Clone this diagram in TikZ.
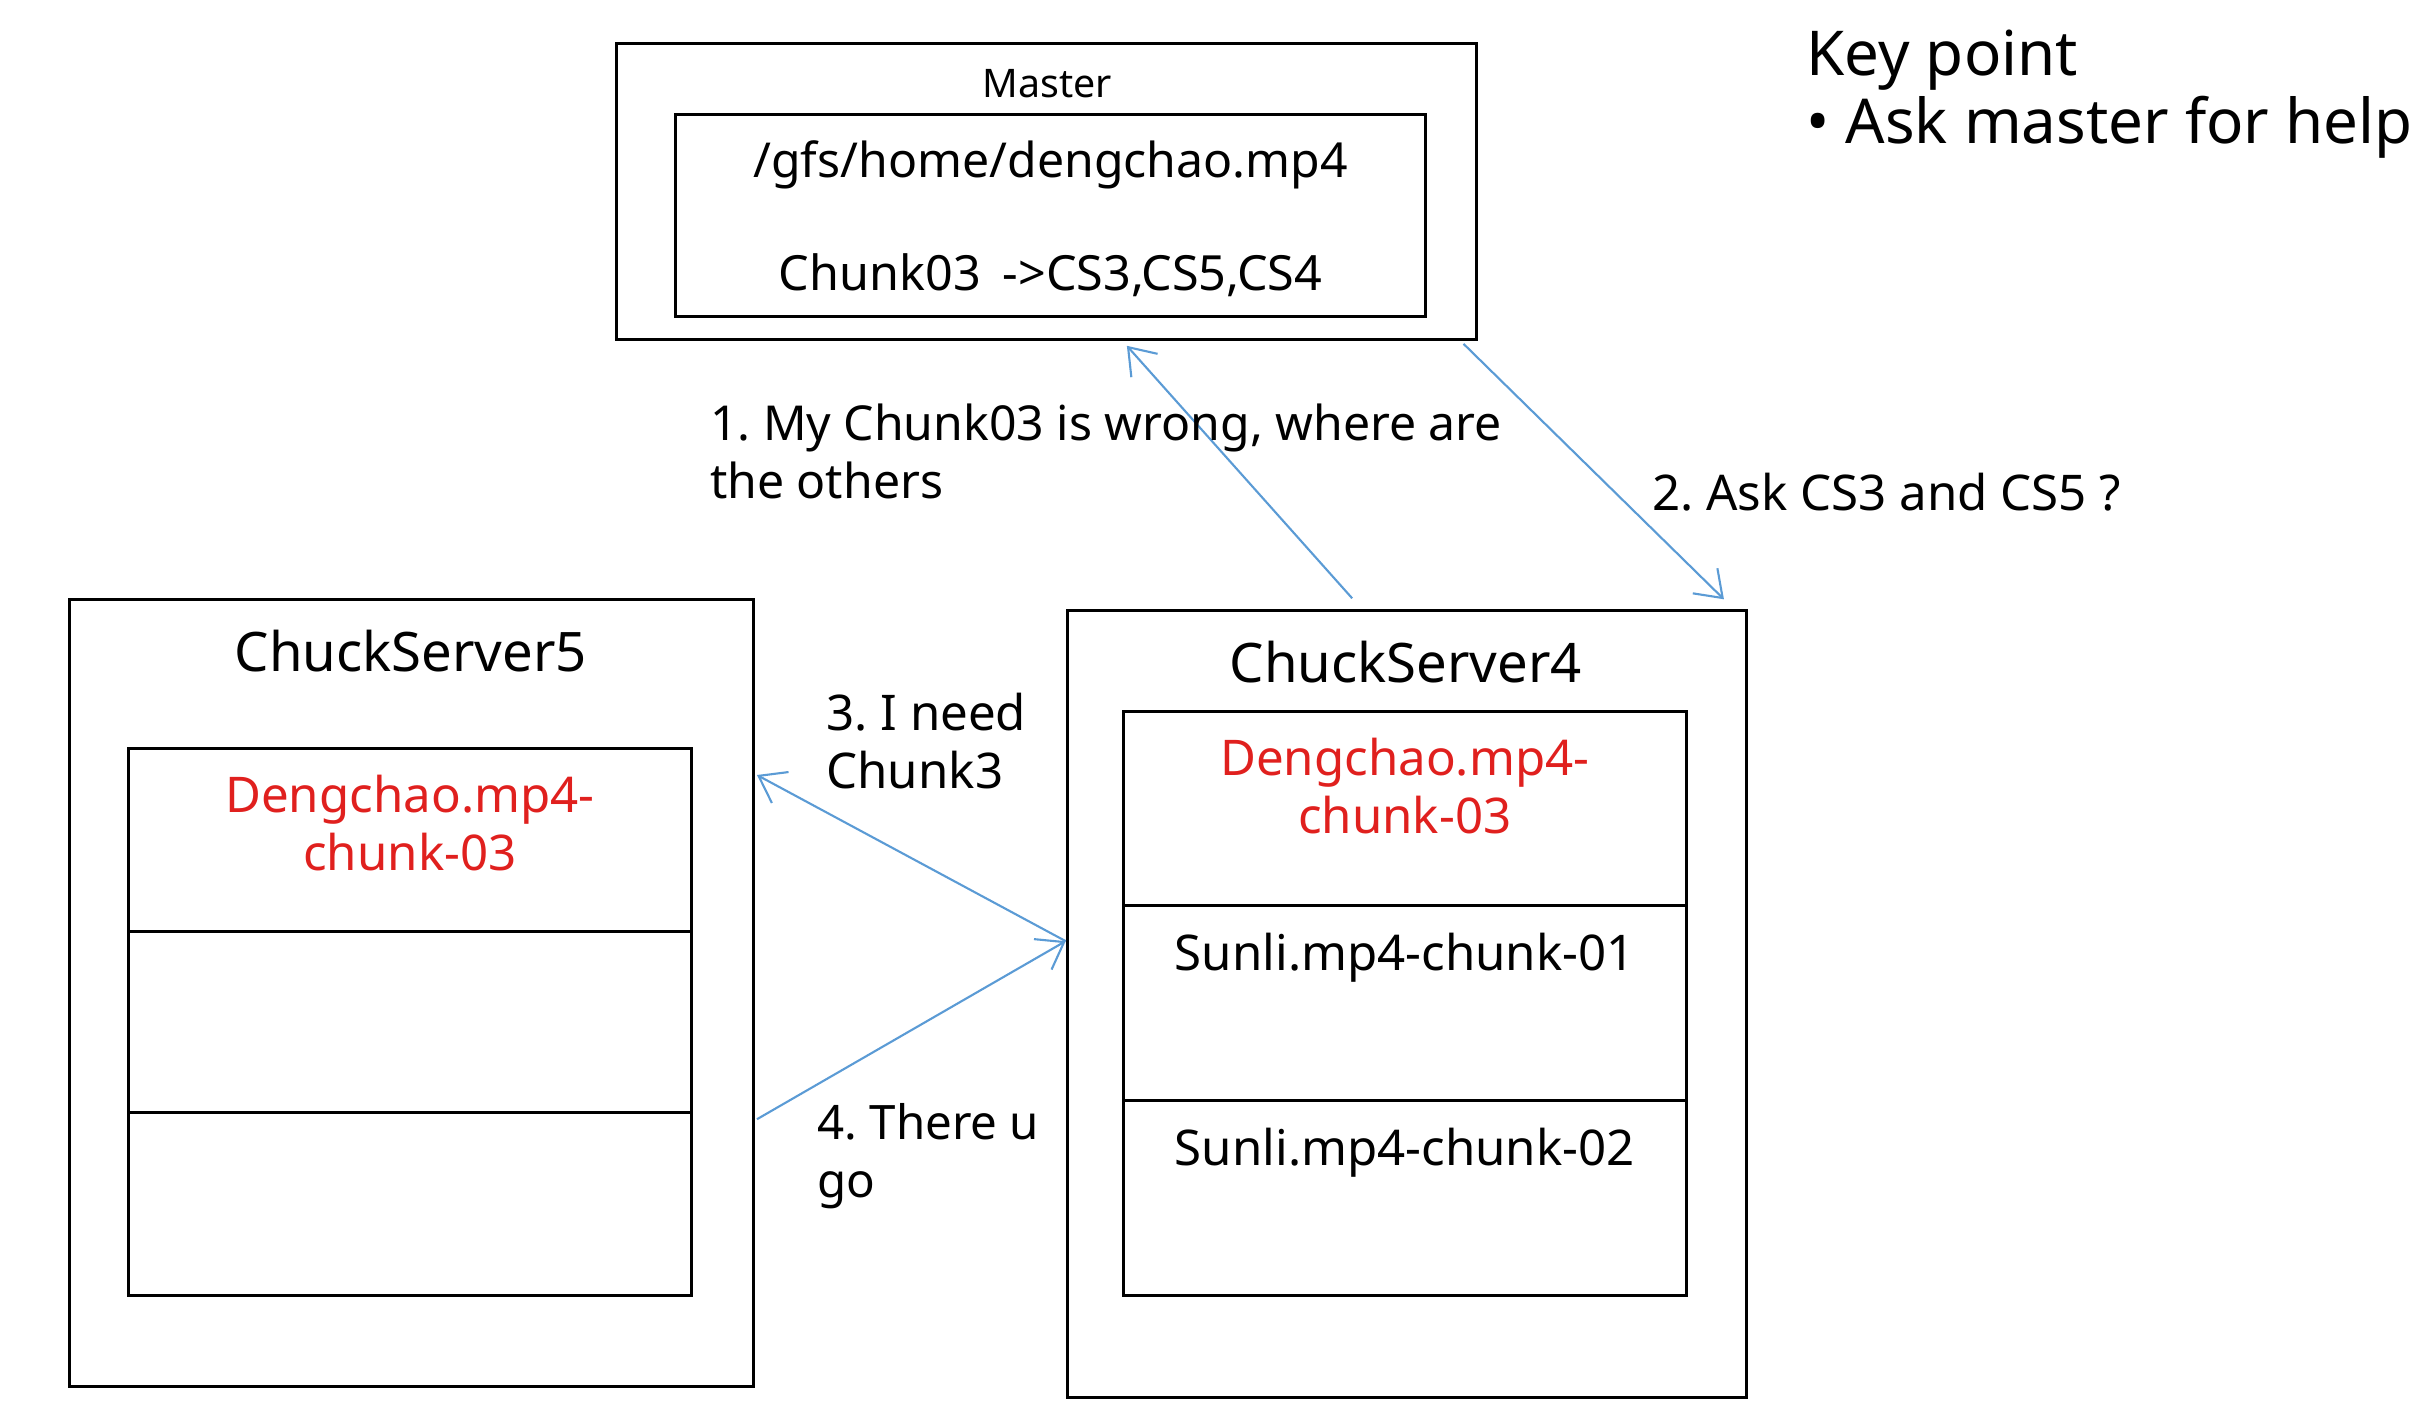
\documentclass[tikz,border=0pt]{standalone}
\usepackage{fontspec}
\setmainfont{Noto Sans}
\usetikzlibrary{arrows.meta,calc}
\definecolor{arrowblue}{HTML}{5B9BD5}
\definecolor{chunkred}{HTML}{E0201E}
\frenchspacing
\begin{document}
\begin{tikzpicture}[x=0.00995cm,y=-0.00995cm,
        box/.style={draw,line width=0.9pt,inner sep=0pt},
        txt/.style={inner sep=0pt,font=\fontsize{14}{16.5}\selectfont},
        msg/.style={draw=arrowblue,line width=0.6pt,-{Straight Barb[length=7pt,width=10pt]}}]
        \useasboundingbox (0cm,0cm) rectangle (24.3cm,-14.26cm);
        % master
        \node[box,minimum width=8.60cm,minimum height=2.955cm] (master) at (1052,192.5) {};
        \node[box,minimum width=7.50cm,minimum height=2.02cm] (table) at (1056,216.5) {};
        \node[inner sep=0pt,font=\fontsize{11.2}{13}\selectfont] (mastername) at (1053,84) {Master};
        \node[txt,font=\fontsize{13.7}{16}\selectfont] (path) at (1056,166) {/gfs/home/dengchao.mp4};
        \node[txt,font=\fontsize{13.8}{16}\selectfont] (loc) at (1056,277) {Chunk03\hspace{0.45em}->CS3,CS5,CS4};
        % chunk servers
        \node[box,minimum width=6.84cm,minimum height=7.87cm] (cs5) at (413.5,998.5) {};
        \node[txt,font=\fontsize{15.5}{18}\selectfont] (cs5name) at (413,654) {ChuckServer5};
        \node[box,minimum width=5.63cm,minimum height=1.83cm] (cs5a) at (412,844) {};
        \node[box,minimum width=5.63cm,minimum height=1.81cm] (cs5b) at (412,1027) {};
        \node[box,minimum width=5.63cm,minimum height=1.83cm] (cs5c) at (412,1210) {};
        \node[txt,chunkred,align=center] (cs5chunk) at (412,827) {Dengchao.mp4-\\chunk-03};
        \node[box,minimum width=6.79cm,minimum height=7.87cm] (cs4) at (1414,1009.5) {};
        \node[txt,font=\fontsize{15.5}{18}\selectfont] (cs4name) at (1413,665) {ChuckServer4};
        \node[box,minimum width=5.63cm,minimum height=1.94cm] (cs4a) at (1412,812.5) {};
        \node[box,minimum width=5.63cm,minimum height=1.95cm] (cs4b) at (1412,1008) {};
        \node[box,minimum width=5.63cm,minimum height=1.95cm] (cs4c) at (1412,1204) {};
        \node[txt,chunkred,align=center] (cs4chunk) at (1412,790) {Dengchao.mp4-\\chunk-03};
        \node[txt] (sunli1) at (1412,963) {Sunli.mp4-chunk-01};
        \node[txt] (sunli2) at (1412,1159) {Sunli.mp4-chunk-02};
        % messages
        \draw[msg] ($(cs4.north west)!0.42!(cs4.north east)+(0,-11)$) -- ($(master.south west)!0.593!(master.south east)+(0,5)$);
        \draw[msg] ($(master.south west)!0.983!(master.south east)+(0,3)$) -- ($(cs4.north west)!0.965!(cs4.north east)+(0,-10)$);
        \draw[msg] ($(cs4.west)+(0,-63.5)$) -- ($(cs5.east)+(2,-219.5)$);
        \draw[msg] ($(cs5.east)+(2,126.5)$) -- ($(cs4.west)+(0,-63.5)$);
        \node[txt,anchor=west,align=left,font=\fontsize{13.7}{16.5}\selectfont] (step1) at (713,454) {1. My Chunk03 is wrong, where are\\the others};
        \node[txt,anchor=west] (step2) at (1660,495) {2. Ask CS3 and CS5 ?};
        \node[txt,anchor=west,align=left] (step3) at (830,745) {3. I need\\Chunk3};
        \node[txt,anchor=west,align=left,font=\fontsize{13.5}{16.5}\selectfont] (step4) at (821,1162) {4. There u\\go};
        % key point
        \node[txt,anchor=west,font=\fontsize{17.6}{20}\selectfont] (key) at (1815,60) {Key point};
        \node[txt,anchor=west,font=\fontsize{17.6}{20}\selectfont] (keyitem) at (1815,128) {\textbullet\ Ask master for help};
    \end{tikzpicture}
\end{document}
